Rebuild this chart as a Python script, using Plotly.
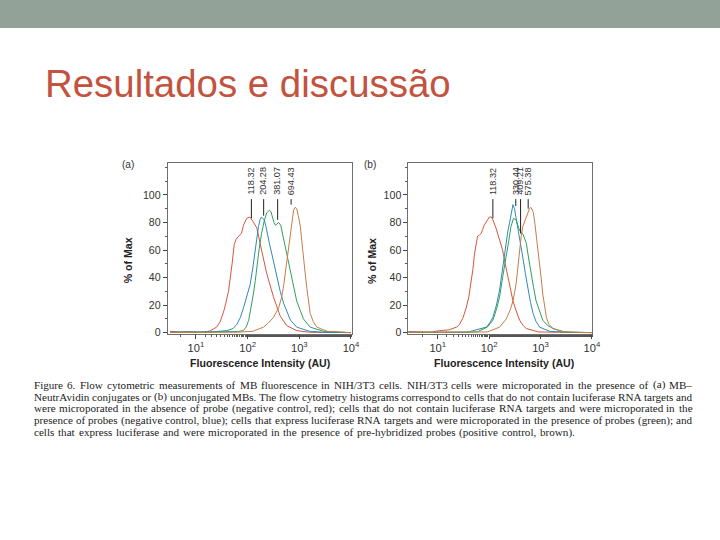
import math
import plotly.graph_objects as go

# ---------------- data ----------------
# Panel (a): MB-NeutrAvidin conjugates
a_red_x = [3.16, 5.01, 7.94, 10, 14.1, 18.6, 25.1, 29.5, 35.5, 42.7, 50.1, 55.0, 60.3, 66.1, 70.8, 75.9, 83.2, 95.5, 110, 126, 151, 186, 234, 316, 427, 575, 891, 1585, 3162, 10000]
a_red_y = [1, 0.5, 0.8, 0.3, 0.5, 1.2, 4, 8, 17, 30, 50, 64, 68, 70, 71, 72, 78, 83, 84, 81, 76, 60, 43, 26, 12, 5, 1.5, 0.3, 0, 0]

a_blue_x = [3.16, 10, 20.0, 39.8, 52.5, 61.7, 72.4, 83.2, 95.5, 112, 126, 141, 151, 162, 174, 186, 195, 209, 224, 234, 263, 295, 331, 372, 427, 501, 589, 676, 891, 1585, 3162, 10000]
a_blue_y = [0.3, 0.2, 0.5, 1.5, 3, 6, 11, 18, 26, 35, 47, 60, 70, 77, 82, 84, 83, 82, 78, 74, 65, 57, 48, 40, 30, 21, 14, 9, 4, 1, 0.2, 0]

a_green_x = [3.16, 31.6, 63.1, 83.2, 93.3, 105, 117, 129, 141, 151, 166, 186, 209, 234, 263, 282, 295, 324, 347, 372, 398, 437, 479, 537, 603, 676, 776, 891, 1047, 1202, 1622, 2951, 10000]
a_green_y = [0.2, 0.3, 0.8, 1.5, 4, 9, 18, 28, 38, 48, 60, 72, 81, 87, 89, 88, 85, 80, 78, 79, 80, 78, 71, 62, 52, 43, 33, 23, 16, 10, 4, 1, 0]

a_brown_x = [3.16, 63.1, 126, 204, 251, 316, 398, 457, 501, 537, 575, 631, 676, 724, 776, 832, 891, 955, 1047, 1122, 1202, 1318, 1413, 1514, 1622, 1862, 2188, 3467, 10000]
a_brown_y = [0.2, 0.3, 1, 4, 7, 11, 18, 26, 35, 44, 53, 62, 70, 80, 89, 91, 90, 85, 77, 66, 53, 41, 31, 22, 14, 8, 4, 1, 0]

# Panel (b): unconjugated MBs
b_red_x = [2.6, 4.62, 7.32, 10.8, 16.4, 23.2, 26.6, 31.2, 35.8, 40.3, 44.1, 48.4, 51.9, 55.6, 59.5, 65.2, 69.9, 74.9, 80.3, 90.0, 101, 111, 118, 136, 160, 183, 206, 232, 260, 291, 342, 393, 462, 530, 921, 3668, 10000]
b_red_y = [0.8, 0.5, 0.3, 1.5, 2, 4, 6, 11, 18, 26, 35, 46, 57, 64, 70, 71, 72, 75, 78, 81, 84, 84, 82, 76, 67, 60, 50, 40, 31, 23, 15, 9, 5, 3, 0.5, 0, 0]

b_blue_x = [2.6, 36.7, 88.0, 103, 118, 139, 160, 183, 202, 216, 232, 248, 271, 291, 312, 334, 358, 403, 451, 507, 568, 638, 716, 821, 965, 1494, 3668, 10000]
b_blue_y = [0.3, 0.2, 4, 7, 11, 20, 31, 48, 60, 67, 74, 79, 87, 93, 90, 84, 77, 66, 55, 43, 31, 22, 14, 8, 4, 1, 0.2, 0]

b_green_x = [2.6, 58.1, 92.1, 118, 139, 160, 183, 216, 242, 266, 298, 334, 367, 393, 421, 451, 495, 530, 581, 652, 732, 821, 965, 1108, 1394, 1756, 2914, 10000]
b_green_y = [0.2, 0.5, 4, 9, 17, 26, 40, 55, 67, 77, 83, 82, 77, 74, 73, 72, 68, 65, 55, 43, 33, 23, 15, 9, 5, 3, 0.5, 0]

b_brown_x = [2.6, 92.1, 160, 216, 260, 291, 334, 367, 393, 421, 451, 530, 568, 609, 652, 716, 767, 821, 900, 965, 1034, 1108, 1215, 1302, 1460, 1756, 2914, 10000]
b_brown_y = [0.2, 0.5, 4, 10, 17, 23, 35, 50, 62, 70, 77, 84, 87, 90, 91, 88, 81, 72, 61, 50, 39, 28, 19, 11, 6, 3, 0.5, 0]

# peak (median) labels: text, x value, y where the pointer line ends
a_labels = ["118.32", "204.28", "381.07", "694.43"]
a_label_x = [118.32, 204.28, 381.07, 694.43]
a_label_end = [83, 85, 82, 93]
b_labels = ["118.32", "330.44", "409.21", "575.38"]
b_label_x = [118.32, 330.44, 409.21, 575.38]
b_label_end = [83, 92, 72, 90]

x_tickvals = [10, 100, 1000, 10000]
x_ticktext = ["10<sup>1</sup>", "10<sup>2</sup>", "10<sup>3</sup>", "10<sup>4</sup>"]
y_tickvals = [0, 20, 40, 60, 80, 100]

slide_title = "Resultados e discussão"
caption_lines = [
    "Figure 6. Flow cytometric measurements of MB fluorescence in NIH/3T3 cells. NIH/3T3 cells were microporated in the presence of (a) MB–",
    "NeutrAvidin conjugates or (b) unconjugated MBs. The flow cytometry histograms correspond to cells that do not contain luciferase RNA targets and",
    "were microporated in the absence of probe (negative control, red); cells that do not contain luciferase RNA targets and were microporated in the",
    "presence of probes (negative control, blue); cells that express luciferase RNA targets and were microporated in the presence of probes (green); and",
    "cells that express luciferase and were microporated in the presence of pre-hybridized probes (positive control, brown).",
]

# ---------------- styling ----------------
W, H = 720, 540
S = 720 / 712  # the page is shown slightly reduced; positions are given in on-screen pixels
RED, BLUE, GREEN, BROWN = "#d4573d", "#2f88b8", "#2f9e5e", "#c47c48"
FRAME = "#6e6e6e"
TXT = "#333333"

def px(xp):
    return xp * S / W

def py(yp):
    return 1 - yp * S / H

def fs(sz):
    return sz * S

fig = go.Figure()

panels = [
    ("x", "y", [(a_red_x, a_red_y, RED), (a_blue_x, a_blue_y, BLUE), (a_green_x, a_green_y, GREEN), (a_brown_x, a_brown_y, BROWN)]),
    ("x2", "y2", [(b_red_x, b_red_y, RED), (b_blue_x, b_blue_y, BLUE), (b_green_x, b_green_y, GREEN), (b_brown_x, b_brown_y, BROWN)]),
]
for xa, ya, series in panels:
    for xs, ys, col in series:
        fig.add_trace(go.Scatter(x=xs, y=ys, mode="lines", xaxis=xa, yaxis=ya,
                                 line=dict(color=col, width=1), hoverinfo="skip", showlegend=False))

axis_common_x = dict(type="log", tickvals=x_tickvals, ticktext=x_ticktext, ticks="outside", ticklen=4,
                     tickcolor="#444", showline=True, linecolor=FRAME, linewidth=1, mirror=True,
                     showgrid=False, zeroline=False, tickfont=dict(family="Arial", size=fs(11), color=TXT),
                     minor=dict(ticks="outside", ticklen=2, tickcolor="#555", showgrid=False))
axis_common_y = dict(range=[-0.7, 123], tickvals=y_tickvals, ticks="outside", ticklen=4, tickcolor="#444",
                     showline=True, linecolor=FRAME, linewidth=1, mirror=True, showgrid=False, zeroline=False,
                     tickfont=dict(family="Arial", size=fs(10.5), color=TXT),
                     minor=dict(ticks="outside", ticklen=2, tickcolor="#555", dtick=10, showgrid=False))

fig.update_layout(
    width=W, height=H, autosize=False, margin=dict(l=0, r=0, t=0, b=0),
    paper_bgcolor="white", plot_bgcolor="white", showlegend=False,
    xaxis=dict(domain=[px(168), px(352)], range=[0.455, 4.01], anchor="y", **axis_common_x),
    yaxis=dict(domain=[py(333), py(163)], anchor="x", **axis_common_y),
    xaxis2=dict(domain=[px(409), px(593)], range=[0.43, 4.005], anchor="y2", **axis_common_x),
    yaxis2=dict(domain=[py(333), py(163)], anchor="x2", **axis_common_y),
)

shapes = [dict(type="rect", xref="paper", yref="paper", x0=-0.02, x1=1.03, y0=py(28), y1=1.02,
               fillcolor="#93a299", line=dict(width=0), layer="below")]
annotations = []

def ann(**kw):
    base = dict(showarrow=False, xanchor="center", yanchor="middle", borderpad=0)
    base.update(kw)
    annotations.append(base)

for xa, ya, labels, lx, lend in [("x", "y", a_labels, a_label_x, a_label_end),
                                  ("x2", "y2", b_labels, b_label_x, b_label_end)]:
    for t, xv, ye in zip(labels, lx, lend):
        shapes.append(dict(type="line", xref=xa, yref=ya, x0=xv, x1=xv, y0=97, y1=ye,
                           line=dict(color="#222", width=1)))
        ann(text=t, xref=xa, yref=ya, x=math.log10(xv), y=110, textangle=-90,
            font=dict(family="Arial", size=fs(9), color=TXT))

# panel letters and axis titles
for letter, lx_, ytx, xtx in [("(a)", 128, 129, 260), ("(b)", 371, 373, 505)]:
    ann(text=letter, xref="paper", yref="paper", x=px(lx_), y=py(164),
        font=dict(family="Arial", size=fs(10), color=TXT))
    ann(text="<b>% of Max</b>", xref="paper", yref="paper", x=px(ytx), y=py(260), textangle=-90,
        font=dict(family="Arial", size=fs(10.5), color="#222"))
    ann(text="<b>Fluorescence Intensity (AU)</b>", xref="paper", yref="paper", x=px(xtx), y=py(362),
        font=dict(family="Arial", size=fs(10.5), color="#222"))

ann(text=slide_title, xref="paper", yref="paper", x=px(44), y=py(83), xanchor="left",
    font=dict(family="Liberation Sans, Arial", size=fs(38), color="#c3533e"))

# caption: justified lines (Times / Liberation Serif advance widths, 1/1000 em)
TIMES_W = {" ": 250, "(": 333, ")": 333, ",": 250, "-": 333, ".": 250, "/": 278, ";": 278, ":": 278,
           "–": 500, "0": 500, "1": 500, "2": 500, "3": 500, "4": 500, "5": 500, "6": 500, "7": 500,
           "8": 500, "9": 500,
           "A": 722, "B": 667, "C": 667, "D": 722, "E": 611, "F": 556, "G": 722, "H": 722, "I": 333,
           "J": 389, "K": 722, "L": 611, "M": 889, "N": 722, "O": 722, "P": 556, "Q": 722, "R": 667,
           "S": 556, "T": 611, "U": 722, "V": 722, "W": 944, "X": 722, "Y": 722, "Z": 611,
           "a": 444, "b": 500, "c": 444, "d": 500, "e": 444, "f": 333, "g": 500, "h": 500, "i": 278,
           "j": 278, "k": 500, "l": 278, "m": 778, "n": 500, "o": 500, "p": 500, "q": 500, "r": 333,
           "s": 389, "t": 278, "u": 500, "v": 500, "w": 722, "x": 500, "y": 500, "z": 444}
CAP_FS = 11
CAP_L, CAP_R = 33, 692
CAP_Y0, CAP_DY = 384, 11.8
CAP_FONT = dict(family="Liberation Serif, Times New Roman, serif", size=fs(CAP_FS), color="#222")

def wwidth(s):
    return sum(TIMES_W.get(ch, 500) for ch in s) * CAP_FS / 1000.0

for i, line in enumerate(caption_lines):
    yv = py(CAP_Y0 + CAP_DY * i)
    words = line.split(" ")
    widths = [wwidth(w) for w in words]
    if i == len(caption_lines) - 1:
        gap = wwidth(" ") * 1.5
    else:
        gap = (CAP_R - CAP_L - sum(widths)) / (len(words) - 1)
    xcur = CAP_L
    for w, wd in zip(words, widths):
        ann(text=w, xref="paper", yref="paper", x=px(xcur), y=yv, xanchor="left", font=CAP_FONT)
        xcur += wd + gap

fig.update_layout(shapes=shapes, annotations=annotations)
fig.write_html("out.html", config={"displayModeBar": False, "responsive": False},
               post_script="document.documentElement.style.overflow='hidden';"
                           "document.body.style.margin='0px';document.body.style.overflow='hidden';")
